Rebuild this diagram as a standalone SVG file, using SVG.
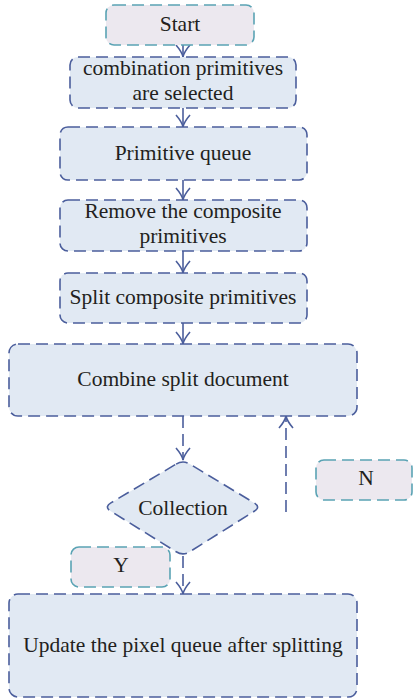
<svg xmlns="http://www.w3.org/2000/svg" width="413" height="699" viewBox="0 0 413 699">
<defs>
<style>
.box{fill:#e1e9f3;stroke:#4b5e9c;stroke-width:1.6;stroke-dasharray:12 6}
.lbl{fill:#ece8ef;stroke:#5aa3b4;stroke-width:1.6;stroke-dasharray:12 6}
.t{font-family:"Liberation Serif","Times New Roman",serif;font-size:21.5px;fill:#231f20;text-anchor:middle}
.c{fill:none;stroke:#4b5e9c;stroke-width:1.6;stroke-dasharray:12 6}
.cs{fill:none;stroke:#4b5e9c;stroke-width:1.6}
</style>
<marker id="ah" markerUnits="userSpaceOnUse" orient="auto" markerWidth="30" markerHeight="30" refX="0" refY="0" viewBox="-15 -15 30 30" overflow="visible">
<path d="M-12,-7 Q-5,-1 0,0 Q-5,1 -12,7" fill="none" stroke="#4b5e9c" stroke-width="1.6"/>
</marker>
</defs>
<rect width="413" height="699" fill="#ffffff"/>
<g id="connectors">
<line class="cs" x1="183" y1="45" x2="183" y2="57" marker-end="url(#ah)"/>
<line class="cs" x1="183" y1="108" x2="183" y2="127" marker-end="url(#ah)"/>
<line class="cs" x1="183" y1="180" x2="183" y2="200" marker-end="url(#ah)"/>
<line class="cs" x1="183" y1="251" x2="183" y2="273" marker-end="url(#ah)"/>
<line class="cs" x1="183" y1="323" x2="183" y2="344" marker-end="url(#ah)"/>
<line class="c" x1="183" y1="416" x2="183" y2="460" marker-end="url(#ah)"/>
<line class="c" x1="286" y1="512" x2="286" y2="416" marker-end="url(#ah)"/>
<line class="c" x1="183" y1="556" x2="183" y2="594" marker-end="url(#ah)"/>
</g>
<g id="start">
<rect class="lbl" x="106" y="5" width="148" height="40" rx="8"/>
<text class="t" x="180" y="31">Start</text>
</g>
<g id="combination">
<rect class="box" x="70" y="57" width="226" height="51" rx="8"/>
<text class="t" x="183" y="75">combination primitives</text>
<text class="t" x="183" y="100">are selected</text>
</g>
<g id="primitive-queue">
<rect class="box" x="60" y="127" width="247" height="53" rx="8"/>
<text class="t" x="183" y="160">Primitive queue</text>
</g>
<g id="remove">
<rect class="box" x="60" y="200" width="247" height="51" rx="8"/>
<text class="t" x="183" y="218">Remove the composite</text>
<text class="t" x="183" y="243">primitives</text>
</g>
<g id="split">
<rect class="box" x="60" y="273" width="247" height="50" rx="8"/>
<text class="t" x="183" y="304">Split composite primitives</text>
</g>
<g id="combine">
<rect class="box" x="9" y="344" width="348" height="72" rx="9"/>
<text class="t" x="183" y="386">Combine split document</text>
</g>
<g id="collection">
<path class="box" d="M176.1,464.1 Q183,460 189.9,464.1 L254.2,502.9 Q261,507 254.2,511.3 L189.8,551.7 Q183,556 176.2,551.8 L110.8,511.2 Q104,507 110.9,502.9 Z"/>
<text class="t" x="183" y="515">Collection</text>
</g>
<g id="label-n">
<rect class="lbl" x="316" y="460" width="96" height="40" rx="8"/>
<text class="t" x="366" y="485">N</text>
</g>
<g id="label-y">
<rect class="lbl" x="71" y="547" width="99" height="40" rx="8"/>
<text class="t" x="121" y="572">Y</text>
</g>
<g id="update">
<rect class="box" x="9" y="594" width="348" height="103" rx="9"/>
<text class="t" x="183" y="652">Update the pixel queue after splitting</text>
</g>
</svg>
